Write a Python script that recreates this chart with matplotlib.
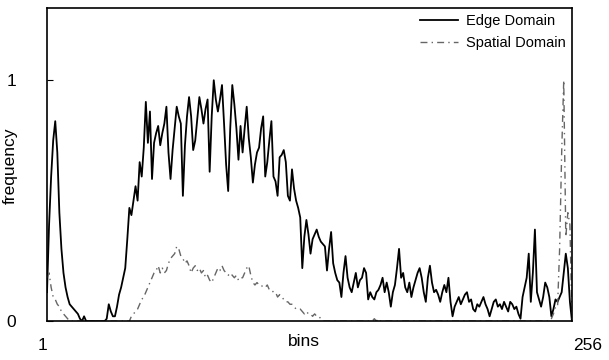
import matplotlib
matplotlib.use("Agg")
import matplotlib.pyplot as plt
import numpy as np

plt.rcParams['font.family'] = ['Liberation Sans', 'DejaVu Sans']

# histogram values, bins 1..256
edge_domain = [
    0.12, 0.40, 0.60, 0.75, 0.83, 0.70, 0.45, 0.30, 0.20, 0.14,
    0.10, 0.07, 0.06, 0.05, 0.04, 0.03, 0.01, 0.00, 0.02, 0.00,
    0.00, 0.00, 0.00, 0.00, 0.00, 0.00, 0.00, 0.00, 0.00, 0.01,
    0.07, 0.04, 0.02, 0.02, 0.06, 0.11, 0.14, 0.18, 0.22, 0.34,
    0.47, 0.44, 0.50, 0.56, 0.50, 0.66, 0.60, 0.72, 0.91, 0.74,
    0.87, 0.59, 0.74, 0.78, 0.81, 0.73, 0.78, 0.82, 0.89, 0.70,
    0.59, 0.71, 0.80, 0.89, 0.85, 0.82, 0.52, 0.73, 0.85, 0.93,
    0.85, 0.71, 0.75, 0.84, 0.93, 0.88, 0.82, 0.88, 0.92, 0.62,
    0.85, 1.00, 0.92, 0.87, 0.92, 0.98, 0.82, 0.65, 0.54, 0.80,
    0.98, 0.90, 0.80, 0.67, 0.81, 0.70, 0.80, 0.89, 0.76, 0.68,
    0.575, 0.65, 0.70, 0.72, 0.80, 0.85, 0.60, 0.66, 0.75, 0.83,
    0.60, 0.58, 0.52, 0.68, 0.69, 0.71, 0.66, 0.52, 0.50, 0.63,
    0.55, 0.50, 0.47, 0.43, 0.22, 0.35, 0.42, 0.36, 0.28, 0.34,
    0.36, 0.38, 0.35, 0.33, 0.32, 0.31, 0.21, 0.30, 0.37, 0.24,
    0.20, 0.17, 0.16, 0.10, 0.20, 0.27, 0.18, 0.14, 0.12, 0.16,
    0.20, 0.14, 0.17, 0.18, 0.22, 0.20, 0.09, 0.12, 0.10, 0.09,
    0.12, 0.13, 0.15, 0.18, 0.12, 0.16, 0.12, 0.06, 0.12, 0.15,
    0.22, 0.30, 0.18, 0.20, 0.14, 0.12, 0.16, 0.10, 0.14, 0.17,
    0.20, 0.22, 0.18, 0.12, 0.08, 0.18, 0.23, 0.16, 0.12, 0.13,
    0.11, 0.08, 0.12, 0.15, 0.12, 0.18, 0.08, 0.02, 0.06, 0.08,
    0.10, 0.07, 0.09, 0.11, 0.12, 0.08, 0.09, 0.05, 0.04, 0.07,
    0.06, 0.08, 0.10, 0.07, 0.05, 0.02, 0.05, 0.08, 0.09, 0.06,
    0.07, 0.05, 0.08, 0.06, 0.04, 0.08, 0.07, 0.05, 0.06, 0.03,
    0.01, 0.10, 0.14, 0.18, 0.28, 0.08, 0.20, 0.38, 0.12, 0.09,
    0.06, 0.10, 0.16, 0.14, 0.10, 0.02, 0.05, 0.09, 0.08, 0.10,
    0.12, 0.20, 0.28, 0.22, 0.08, 0.00,
]

spatial_domain = [
    0.18, 0.20, 0.14, 0.10, 0.09, 0.07, 0.06, 0.04, 0.03, 0.02,
    0.01, 0.00, 0.00, 0.00, 0.00, 0.00, 0.00, 0.00, 0.00, 0.00,
    0.00, 0.00, 0.00, 0.00, 0.00, 0.00, 0.00, 0.00, 0.00, 0.00,
    0.00, 0.00, 0.00, 0.00, 0.00, 0.00, 0.00, 0.00, 0.00, 0.00,
    0.00, 0.02, 0.03, 0.04, 0.05, 0.07, 0.09, 0.10, 0.12, 0.14,
    0.16, 0.18, 0.20, 0.21, 0.23, 0.20, 0.22, 0.20, 0.21, 0.24,
    0.26, 0.27, 0.28, 0.31, 0.30, 0.27, 0.26, 0.24, 0.25, 0.23,
    0.20, 0.22, 0.23, 0.21, 0.22, 0.20, 0.21, 0.18, 0.19, 0.17,
    0.16, 0.18, 0.20, 0.22, 0.21, 0.23, 0.21, 0.20, 0.19, 0.20,
    0.19, 0.18, 0.19, 0.17, 0.18, 0.18, 0.20, 0.22, 0.23, 0.19,
    0.16, 0.15, 0.16, 0.15, 0.15, 0.14, 0.14, 0.15, 0.13, 0.13,
    0.12, 0.12, 0.10, 0.11, 0.10, 0.09, 0.08, 0.08, 0.07, 0.07,
    0.06, 0.05, 0.05, 0.05, 0.04, 0.03, 0.04, 0.03, 0.03, 0.02,
    0.03, 0.02, 0.02, 0.01, 0.00, 0.00, 0.00, 0.00, 0.00, 0.00,
    0.00, 0.00, 0.00, 0.00, 0.00, 0.00, 0.00, 0.00, 0.00, 0.00,
    0.00, 0.00, 0.00, 0.00, 0.00, 0.00, 0.00, 0.00, 0.00, 0.01,
    0.00, 0.01, 0.00, 0.00, 0.00, 0.00, 0.00, 0.00, 0.00, 0.00,
    0.00, 0.00, 0.00, 0.00, 0.00, 0.00, 0.00, 0.00, 0.00, 0.00,
    0.00, 0.00, 0.00, 0.00, 0.00, 0.00, 0.00, 0.00, 0.00, 0.00,
    0.00, 0.00, 0.00, 0.00, 0.00, 0.00, 0.00, 0.00, 0.00, 0.00,
    0.00, 0.00, 0.00, 0.00, 0.00, 0.00, 0.00, 0.00, 0.00, 0.00,
    0.00, 0.00, 0.00, 0.00, 0.00, 0.00, 0.00, 0.00, 0.00, 0.00,
    0.00, 0.00, 0.00, 0.00, 0.00, 0.00, 0.00, 0.00, 0.00, 0.00,
    0.00, 0.00, 0.00, 0.00, 0.00, 0.00, 0.00, 0.00, 0.00, 0.00,
    0.00, 0.00, 0.00, 0.00, 0.00, 0.01, 0.03, 0.06, 0.06, 0.30,
    0.70, 1.00, 0.35, 0.45, 0.40, 0.00,
]

bins = np.arange(1, len(edge_domain) + 1)

fig = plt.figure(figsize=(6.09, 3.6), dpi=100)
ax = fig.add_axes([0.0772, 0.108, 0.862, 0.870])

ax.plot(bins, edge_domain, color='black', lw=1.3, label='Edge Domain')
ax.plot(bins, spatial_domain, color='#666666', lw=1.0,
        linestyle=(0, (5, 3, 1, 3)), label='Spatial Domain')

ax.set_xlim(1, 256)
ax.set_ylim(0, 1.30)

ax.set_xticks([])
ax.set_yticks([0, 1])
ax.set_yticklabels(['0', '1'], fontsize=12.5)
ax.tick_params(axis='y', direction='in', length=4, pad=22)

ax.text(-0.0095, -0.077, '1', transform=ax.transAxes, ha='center', va='center', fontsize=12.5)
ax.text(1.03, -0.077, '256', transform=ax.transAxes, ha='center', va='center', fontsize=12.5)
ax.text(0.49, -0.065, 'bins', transform=ax.transAxes, ha='center', va='center', fontsize=12.5)
fig.text(0.0164, 0.54, 'frequency', rotation=90, ha='center', va='center', fontsize=12.5)

for s in ax.spines.values():
    s.set_linewidth(1.2)

ax.legend(loc='upper right', frameon=False, fontsize=10.5, handlelength=2.6,
          borderaxespad=0.05, labelspacing=0.5, handletextpad=0.5)

fig.savefig('out.png', dpi=100)
